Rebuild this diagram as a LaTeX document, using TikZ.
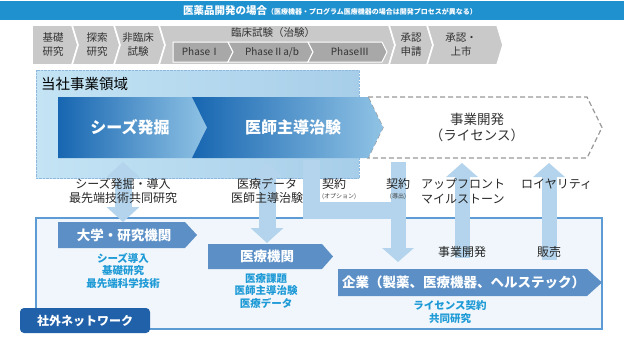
\documentclass[tikz,border=0pt]{standalone}
\usepackage{fontspec}
\setmainfont{Noto Sans CJK JP}
\usepackage{tikz}
\usetikzlibrary{arrows.meta,positioning,calc}
\definecolor{cbanner}{HTML}{2091CF}
\definecolor{cproc}{HTML}{C9C9C9}
\definecolor{cphase}{HTML}{A8A8A8}
\definecolor{cdark}{HTML}{1766B1}
\definecolor{clight}{HTML}{90C3E5}
\definecolor{czone}{HTML}{C4E4F4}
\definecolor{czonetwo}{HTML}{A7CEE9}
\definecolor{cflow}{HTML}{B3D4EC}
\definecolor{cpart}{HTML}{5B8FC6}
\definecolor{cnet}{HTML}{2161A9}
\definecolor{cnote}{HTML}{1E9AD6}
\definecolor{cedge}{HTML}{5C9BD3}
\definecolor{ctxt}{HTML}{333333}
\newcommand{\chev}[7]{% style, left, tip, top, bottom, notch, depth
  \path[#1] (#2,#4) -- ({#3-#7},#4) -- (#3,{(#4+#5)/2}) -- ({#3-#7},#5) -- (#2,#5) -- ({#2+#6},{(#4+#5)/2}) -- cycle;}
\tikzset{
  procstep/.style={fill=cproc, draw=white, line width=1.6pt},
  phasestep/.style={fill=cphase, draw=white, line width=1pt},
  seedstep/.style={left color=cdark, right color=clight},
  bizstep/.style={fill=white, draw=black!40, line width=1.2pt, dash pattern=on 5pt off 3pt},
  partstep/.style={fill=cpart},
  zone/.style={left color=czone, right color=czonetwo, draw=cedge!70, densely dotted},
  netbox/.style={fill=cedge!9, draw=cedge, line width=1.5pt},
  proclbl/.style={inner sep=0pt, align=center, text=ctxt, font=\fontsize{10.5}{14.5}\selectfont},
  phaselbl/.style={inner sep=0pt, text=ctxt, font=\fontsize{10}{11}\selectfont},
  bannerlbl/.style={inner sep=0pt, text=white, font=\fontsize{10.5}{12}\selectfont\bfseries},
  biglbl/.style={inner sep=0pt, text=white, font=\fontsize{16}{18}\selectfont\bfseries},
  partlbl/.style={inner sep=0pt, text=white, font=\fontsize{13.5}{15}\selectfont\bfseries},
  note/.style={inner sep=0pt, align=center, text=cnote, font=\fontsize{10.5}{12.5}\selectfont\bfseries},
  lbl/.style={inner sep=0pt, align=center, text=black!85, font=\fontsize{12}{14.5}\selectfont},
  tiny/.style={inner sep=0pt, text=black!75, font=\fontsize{6}{7}\selectfont},
  flow/.style={draw=cflow, line width=17pt},
  flowtip/.style={flow, -{Triangle[width=31pt,length=14pt]}},
  flowboth/.style={flow, {Triangle[width=32pt,length=15pt]}-{Triangle[width=32pt,length=15pt]}},
  nettab/.style={fill=cnet, rounded corners=4pt, minimum width=130pt, minimum height=25pt, inner sep=0pt,
    text=white, font=\fontsize{12}{14}\selectfont\bfseries},
}
\begin{document}
\begin{tikzpicture}[x=1pt,y=-1pt]
\useasboundingbox (0,0) rectangle (624,338);
% banner
\fill[cbanner] (0,1) rectangle (624,20);
\node[bannerlbl, anchor=west] (title) at (183,10.5) {医薬品開発の場合{\fontsize{7}{8}\selectfont （医療機器・プログラム医療機器の場合は開発プロセスが異なる）}};
% process row
\foreach \l/\r/\n in {32/78/0,72/120/6,114/165/6,159/395/6,389/433/6,427/503/6}
  \chev{procstep}{\l}{\r}{25}{65}{\n}{6};
\node[proclbl] (basic) at (53,44.5) {基礎\\研究};
\node[proclbl] (explore) at (97,44.5) {探索\\研究};
\node[proclbl] (preclin) at (138,44.5) {非臨床\\試験};
\node[proclbl] (clinical) at (273,33) {臨床試験（治験）};
\node[proclbl] (filing) at (411,44.5) {承認\\申請};
\node[proclbl] (launch) at (461,44.5) {承認・\\上市};
\chev{phasestep}{173}{233}{42}{62}{0}{5};
\chev{phasestep}{228}{313}{42}{62}{5}{5};
\chev{phasestep}{308}{387}{42}{62}{5}{5};
\node[phaselbl] (ph1) at (201,52) {PhaseⅠ};
\node[phaselbl] (ph2) at (272,52) {PhaseⅡa/b};
\node[phaselbl] (ph3) at (350,52) {PhaseⅢ};
% our business
\path[zone] (36,70) rectangle (359,178);
\node[anchor=west, inner sep=0pt, font=\fontsize{14.5}{16}\selectfont] (ours) at (41,84) {当社事業領域};
\chev{bizstep}{368}{602}{97}{158}{15}{15};
\chev{seedstep}{58}{207}{97}{158}{0}{15};
\chev{seedstep}{192}{383}{97}{158}{15}{15};
\node[biglbl] (seeds) at (130,127.5) {シーズ発掘};
\node[biglbl] (trial) at (293,127.5) {医師主導治験};
\node[lbl, text=ctxt, font=\fontsize{13.5}{15.5}\selectfont] (bizdev) at (477,127.5) {事業開発\\（ライセンス）};
% network
\path[netbox] (36,218) rectangle (602,329);
\coordinate (s1) at (123,162); \coordinate (s2) at (123,222);
\coordinate (m1) at (267,162); \coordinate (m2) at (267,243);
\coordinate (o1) at (311.5,160); \coordinate (o2) at (398,210);
\coordinate (l1) at (398,162); \coordinate (l2) at (398,262);
\coordinate (u1) at (462,258); \coordinate (u2) at (462,163);
\coordinate (r1) at (549,260); \coordinate (r2) at (549,163);
\draw[flowboth] (s1) -- (s2);
\draw[flowboth] (m1) -- (m2);
\draw[flow] (o1) |- (o2);
\draw[flowtip, line width=15pt] (l1) -- (l2);
\draw[flowtip, line width=15pt] (u1) -- (u2);
\draw[flowtip, line width=15pt] (r1) -- (r2);
\chev{partstep}{58}{197}{222}{248}{0}{12};
\chev{partstep}{208}{333}{244}{269}{0}{11};
\chev{partstep}{338}{602}{269}{296}{0}{15};
\node[partlbl] (univ) at (124,235) {大学・研究機関};
\node[partlbl] (hosp) at (267,256.5) {医療機関};
\node[partlbl, anchor=west] (corp) at (342,282.5) {企業（製薬、医療機器、ヘルステック）};
\node[note] (univnote) at (123,270.5) {シーズ導入\\基礎研究\\最先端科学技術};
\node[note] (hospnote) at (266,291) {医療課題\\医師主導治験\\医療データ};
\node[note] (corpnote) at (450,312) {ライセンス契約\\共同研究};
\node[nettab] (net) at (85,320.5) {社外ネットワーク};
% flow labels
\node[lbl] (seedlbl) at (123,191) {シーズ発掘・導入\\最先端技術共同研究};
\node[lbl] (medlbl) at (267,191) {医療データ\\医師主導治験};
\node[lbl, anchor=west] (optlbl) at (322,184) {契約};
\node[tiny, anchor=west] (optsub) at (322,197) {(オプション)};
\node[lbl] (outlbl) at (398,184) {契約};
\node[tiny] (outsub) at (398,197) {(導出)};
\node[lbl, anchor=west, align=left] (uplbl) at (421,191.5) {アップフロント\\マイルストーン};
\node[lbl, anchor=west] (roylbl) at (521,184) {ロイヤリティ};
\node[lbl] (devlbl) at (462,252) {事業開発};
\node[lbl] (salelbl) at (549,252) {販売};
\end{tikzpicture}
\end{document}
